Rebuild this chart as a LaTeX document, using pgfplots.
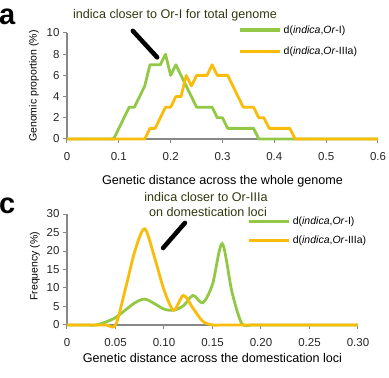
\documentclass[border=0pt]{standalone}
\usepackage{pgfplots}
\pgfplotsset{compat=1.18}
\usepackage{fontspec}
\setmainfont{Liberation Sans}
\definecolor{cgreen}{RGB}{146,200,70}
\definecolor{corange}{RGB}{250,188,10}
\definecolor{olivetxt}{RGB}{50,55,15}
\definecolor{axgray}{RGB}{135,135,135}
\pgfplotsset{
  every tick label/.append style={font=\fontsize{11.5}{13}\selectfont, text=black!85},
  every x tick label/.append style={yshift=-3pt},
  myaxis/.style={
    scale only axis, axis x line*=bottom, axis y line*=left,
    enlargelimits=false, clip=false,
    axis line style={axgray, line width=1.3pt},
    tick style={axgray, line width=1pt},
    tick align=outside, major tick length=4pt,
    /pgf/number format/assume math mode=true,
    legend cell align=left,
    legend image code/.code={\draw[#1,line width=3.5pt] (0pt,0pt) -- (40pt,0pt);},
    legend style={draw=none, fill=none, font=\fontsize{10.5}{12}\selectfont, inner sep=0pt, row sep=8pt},
  }
}
\begin{document}
\begin{tikzpicture}
\useasboundingbox (0pt,0pt) rectangle (389pt,378pt);
\begin{axis}[myaxis,
  at={(67pt,239pt)}, anchor=south west,
  width=311pt, height=106pt,
  xmin=0, xmax=0.6, ymin=0, ymax=10,
  xtick={0,0.1,0.2,0.3,0.4,0.5,0.6},
  xticklabels={0,0.1,0.2,0.3,0.4,0.5,0.6},
  ytick={0,2,4,6,8,10},
  xticklabel style={font=\fontsize{11.5}{13}\selectfont, yshift=-3pt},
  yticklabel style={font=\fontsize{11.5}{13}\selectfont},
  xlabel={Genetic distance across the whole genome},
  ylabel={Genomic proportion (\%)},
  xlabel style={at={(axis description cs:0.5,-0.40)}, anchor=center, font=\fontsize{12.6}{14}\selectfont},
  ylabel style={at={(axis description cs:-0.106,0.5)}, anchor=center, font=\fontsize{10.5}{12}\selectfont},
  legend style={at={(axis description cs:0.55,1.09)}, anchor=north west},
]
\addplot[cgreen, line width=2.8pt, line join=round] coordinates {
(0,0)(0.09,0)(0.10,1)(0.11,2)(0.12,3)(0.13,3)(0.14,4)(0.15,5)(0.16,7)(0.17,7)(0.18,7)(0.19,8)(0.20,6)(0.21,7)(0.22,6)(0.23,5)(0.24,4)(0.25,3)(0.26,3)(0.27,3)(0.28,3)(0.29,2)(0.30,2)(0.31,1)(0.32,1)(0.33,1)(0.34,1)(0.35,1)(0.36,1)(0.37,0)(0.6,0)};
\addlegendentry{d(\textit{indica},\textit{Or}-I)}
\addplot[corange, line width=2.8pt, line join=round] coordinates {
(0,0)(0.15,0)(0.16,1)(0.17,1)(0.18,2)(0.19,3)(0.20,3)(0.21,4)(0.22,4)(0.23,6)(0.24,5)(0.25,6)(0.26,6)(0.27,6)(0.28,7)(0.29,6)(0.30,6)(0.31,6)(0.32,5)(0.33,4)(0.34,3)(0.35,3)(0.36,3)(0.37,2)(0.38,2)(0.39,1)(0.40,1)(0.41,1)(0.42,1)(0.43,1)(0.44,0)(0.6,0)};
\addlegendentry{d(\textit{indica},\textit{Or}-IIIa)}
\draw[black, line width=4.5pt, line cap=round] (axis cs:0.127,10.2) -- (axis cs:0.174,7.7);
\end{axis}
\begin{axis}[myaxis,
  at={(67pt,53pt)}, anchor=south west,
  width=291pt, height=111pt,
  xmin=0, xmax=0.3, ymin=0, ymax=30,
  xtick={0,0.05,0.10,0.15,0.20,0.25,0.30},
  xticklabels={0,0.05,0.10,0.15,0.20,0.25,0.30},
  ytick={0,5,10,15,20,25,30},
  xticklabel style={font=\fontsize{11.5}{13}\selectfont, yshift=-3pt},
  yticklabel style={font=\fontsize{11.5}{13}\selectfont},
  xlabel={Genetic distance across the domestication loci},
  ylabel={Frequency (\%)},
  xlabel style={at={(axis description cs:0.5,-0.30)}, anchor=center, font=\fontsize{12.6}{14}\selectfont},
  ylabel style={at={(axis description cs:-0.11,0.53)}, anchor=center, font=\fontsize{10.5}{12}\selectfont},
  legend style={at={(axis description cs:0.619,0.995)}, anchor=north west, row sep=6pt},
]
\addplot[cgreen, line width=2.8pt, smooth, tension=0.5] coordinates {
(0,0)(0.01,0)(0.02,0)(0.03,0)(0.04,0.8)(0.05,2)(0.06,4)(0.07,6)(0.08,7)(0.09,5.8)(0.10,4.3)(0.11,4)(0.12,5.2)(0.13,8)(0.14,6)(0.15,11)(0.16,22)(0.17,9)(0.18,0.5)(0.19,0)(0.20,0)(0.25,0)(0.30,0)};
\addlegendentry{d(\textit{indica},\textit{Or}-I)}
\addplot[corange, line width=2.8pt, smooth, tension=0.5] coordinates {
(0,0)(0.02,0)(0.04,0)(0.05,0)(0.06,9.5)(0.07,20)(0.08,26)(0.09,18.5)(0.10,9.5)(0.11,4)(0.12,8)(0.13,4.5)(0.14,1)(0.15,0)(0.16,0)(0.20,0)(0.25,0)(0.30,0)};
\addlegendentry{d(\textit{indica},\textit{Or}-IIIa)}
\draw[black, line width=4.5pt, line cap=round] (axis cs:0.1216,27.6) -- (axis cs:0.099,20.8);
\end{axis}
\node[anchor=base west, inner sep=0pt, font=\fontsize{29}{29}\selectfont\bfseries] at (-1pt,353pt) {a};
\node[anchor=base west, inner sep=0pt, font=\fontsize{29}{29}\selectfont\bfseries] at (-1pt,164pt) {c};
\node[anchor=base, inner sep=0pt, text=olivetxt, font=\fontsize{12.6}{14}\selectfont] at (175pt,359pt) {indica closer to Or-I for total genome};
\node[anchor=base, inner sep=0pt, text=olivetxt, font=\fontsize{12.6}{14}\selectfont] at (206pt,176pt) {indica closer to Or-IIIa};
\node[anchor=base, inner sep=0pt, text=olivetxt, font=\fontsize{12.6}{14}\selectfont] at (208pt,161.3pt) {on domestication loci};
\end{tikzpicture}
\end{document}
